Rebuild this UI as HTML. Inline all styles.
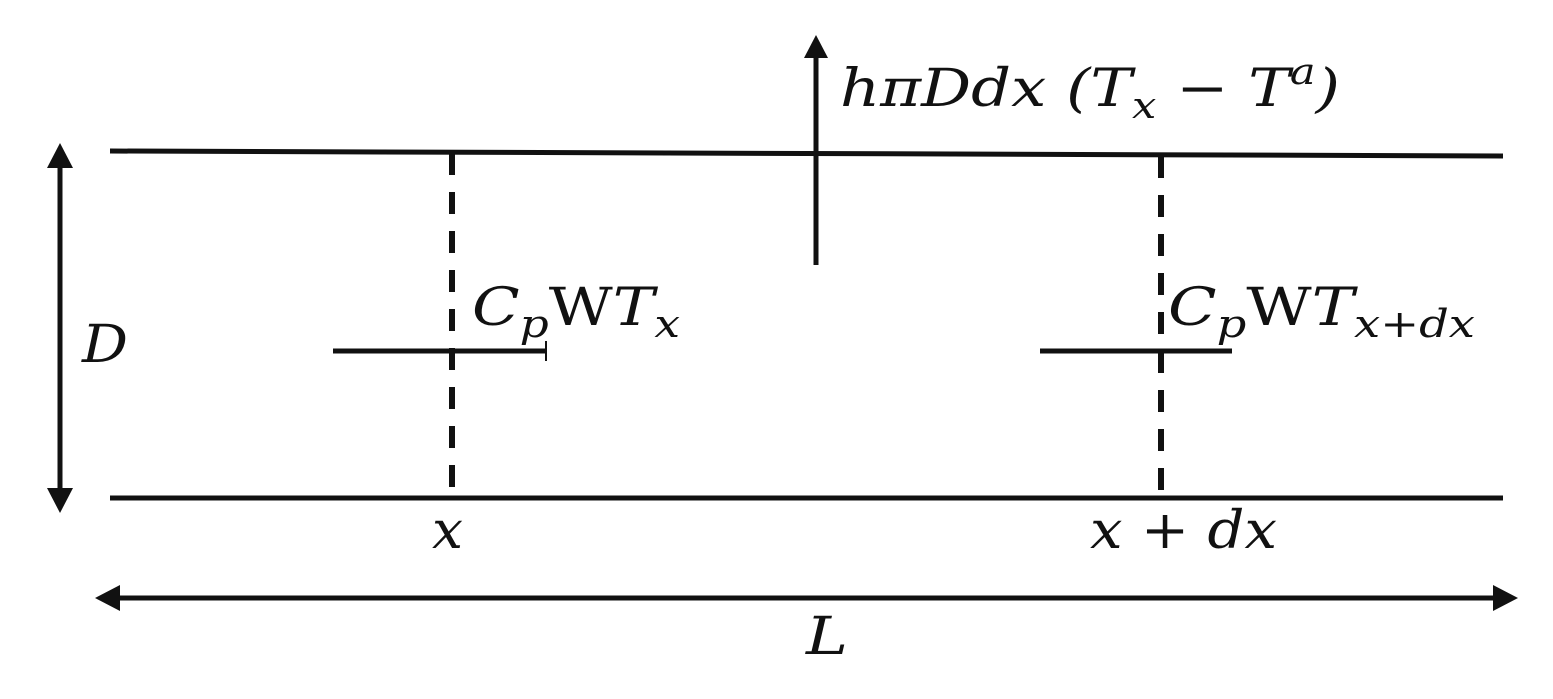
<!DOCTYPE html>
<html><head><meta charset="utf-8"><style>
html,body{margin:0;padding:0;background:#fff;}
svg{display:block;}
</style></head><body>
<svg width="1553" height="699" viewBox="0 0 1553 699" xmlns="http://www.w3.org/2000/svg">
<g stroke="#111" stroke-width="5" fill="none">
<line x1="110" y1="151" x2="1503" y2="156"/>
<line x1="110" y1="498" x2="1503" y2="498"/>
<line x1="60" y1="165" x2="60" y2="492"/>
<line x1="115" y1="598" x2="1498" y2="598"/>
<line x1="816" y1="265" x2="816" y2="55"/>
<line x1="333" y1="351" x2="547" y2="351"/>
<line x1="1040" y1="351" x2="1232" y2="351"/>
<line x1="452" y1="153" x2="452" y2="490" stroke-width="6" stroke-dasharray="22 17"/>
<line x1="1161" y1="156" x2="1161" y2="490" stroke-width="6" stroke-dasharray="22 17"/>
<line x1="546" y1="341" x2="546" y2="361" stroke-width="2"/>
</g>
<g fill="#111">
<polygon points="60,143 47,168 73,168"/>
<polygon points="60,513 47,488 73,488"/>
<polygon points="95,598 120,585 120,611"/>
<polygon points="1518,598 1493,585 1493,611"/>
<polygon points="816,35 804,58 828,58"/>
</g>
<g font-family="'DejaVu Serif', 'Liberation Serif', serif" font-style="italic" fill="#111">
<text x="840" y="106" font-size="52" textLength="500" lengthAdjust="spacingAndGlyphs">hπDdx (T<tspan font-size="36" dy="12">x</tspan><tspan dy="-12"> − T</tspan><tspan font-size="36" dy="-22">a</tspan><tspan dy="22">)</tspan></text>
<text x="472" y="325" font-size="52" textLength="208" lengthAdjust="spacingAndGlyphs">C<tspan font-size="38" dy="12">p</tspan><tspan font-style="normal" dy="-12">W</tspan>T<tspan font-size="38" dy="12">x</tspan></text>
<text x="1168" y="325" font-size="52" textLength="307" lengthAdjust="spacingAndGlyphs">C<tspan font-size="38" dy="12">p</tspan><tspan font-style="normal" dy="-12">W</tspan>T<tspan font-size="38" dy="12">x+dx</tspan></text>
<text x="82" y="362" font-size="52" textLength="46" lengthAdjust="spacingAndGlyphs">D</text>
<text x="432" y="548" font-size="52" textLength="31" lengthAdjust="spacingAndGlyphs">x</text>
<text x="1090" y="548" font-size="52" textLength="187" lengthAdjust="spacingAndGlyphs">x + dx</text>
<text x="806" y="654" font-size="52" textLength="42" lengthAdjust="spacingAndGlyphs">L</text>
</g>
</svg>
</body></html>
